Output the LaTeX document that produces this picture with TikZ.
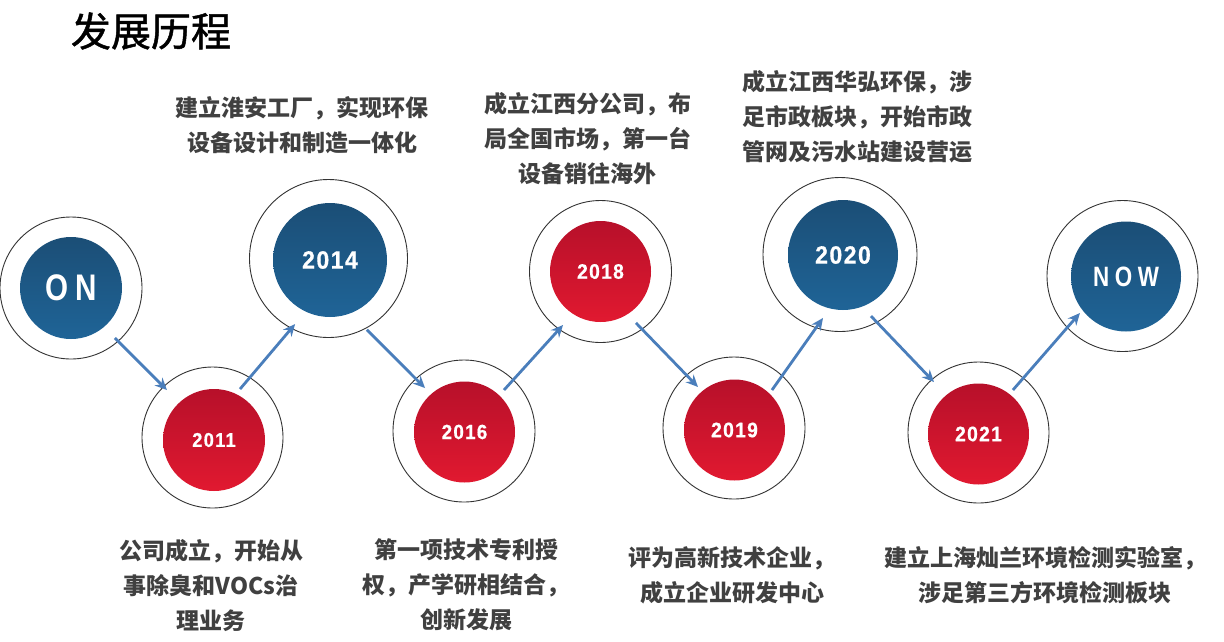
\documentclass[tikz,border=0pt]{standalone}
\usepackage{fontspec}
\usetikzlibrary{calc,arrows.meta}
\newfontfamily\cjk{Noto Sans CJK SC}
\newfontfamily\cjktitle[FakeBold=1.2]{Noto Sans CJK SC}
\newfontfamily\yrfont[LetterSpace=6,FakeStretch=0.92,FakeBold=0.6]{Liberation Sans Bold}
\newfontfamily\wdfont[LetterSpace=20,FakeStretch=0.8]{Liberation Sans Bold}
\definecolor{txtgray}{HTML}{404040}
\definecolor{bluetop}{HTML}{1B4E76}
\definecolor{bluebot}{HTML}{1F6497}
\definecolor{redtop}{HTML}{B7102A}
\definecolor{redbot}{HTML}{E11930}
\definecolor{arrowblue}{HTML}{4A7EBB}
\tikzset{
  ring/.style={circle, draw=black!80, line width=0.9pt, inner sep=0pt, minimum size=#1},
  bluedisc/.style={circle, inner sep=0pt, minimum size=#1, top color=bluetop, bottom color=bluebot, draw=none, text=white},
  reddisc/.style={circle, inner sep=0pt, minimum size=#1, top color=redtop, bottom color=redbot, draw=none, text=white},
  arr/.style={draw=arrowblue, line width=2.8pt, -{Stealth[length=12pt,width=11pt,inset=4pt]}},
  desc/.style={text=txtgray, align=center, font=\cjk\bfseries\fontsize{23}{35}\selectfont},
}
\begin{document}
\begin{tikzpicture}[x=1pt,y=1pt]
\useasboundingbox[fill=white] (0,0) rectangle (1224,-641);
\node[font=\cjktitle\fontsize{40}{44}\selectfont, text=black] (title) at (151,-31) {发展历程};

% rings
\node[ring=142pt] (on) at (71,-288) {};
\node[ring=141pt] (y11) at (212.5,-437.5) {};
\node[ring=158pt] (y14) at (328.5,-258.5) {};
\node[ring=142pt] (y16) at (464,-431) {};
\node[ring=142pt] (y18) at (600.5,-271.5) {};
\node[ring=142pt] (y19) at (734,-428) {};
\node[ring=154pt] (y20) at (840,-254.5) {};
\node[ring=141pt] (y21) at (978.5,-432.5) {};
\node[ring=151pt] (now) at (1122.5,-276) {};

% discs
\node[bluedisc=102pt, font=\wdfont\fontsize{37}{40}\selectfont] (ond) at (71,-288) {ON};
\node[reddisc=102pt, font=\yrfont\fontsize{20}{22}\selectfont] (y11d) at (214,-440) {2011};
\node[bluedisc=114pt, font=\yrfont\fontsize{25}{28}\selectfont] (y14d) at (330,-260) {2014};
\node[reddisc=101pt, font=\yrfont\fontsize{20.5}{22}\selectfont] (y16d) at (464.5,-432) {2016};
\node[reddisc=101pt, font=\yrfont\fontsize{21}{22}\selectfont] (y18d) at (600.5,-271.5) {2018};
\node[reddisc=101pt, font=\yrfont\fontsize{21}{22}\selectfont] (y19d) at (734.5,-430) {2019};
\node[bluedisc=110pt, font=\yrfont\fontsize{25}{28}\selectfont] (y20d) at (843,-255) {2020};
\node[reddisc=101pt, font=\yrfont\fontsize{21}{22}\selectfont] (y21d) at (978.5,-434) {2021};
\node[bluedisc=110pt, font=\wdfont\fontsize{28}{30}\selectfont] (nowd) at (1126,-276.5) {NOW};

% arrows
\draw[arr] ($(on.center)+(-48.7:66.6)$) -- ($(y11.center)+(133.8:65.8)$);
\draw[arr] ($(y11.center)+(60.4:55.7)$) -- ($(y14.center)+(-117:73.6)$);
\draw[arr] ($(y14.center)+(-61.7:81)$) -- ($(y16.center)+(132.2:58)$);
\draw[arr] ($(y16.center)+(45.7:57.3)$) -- ($(y18.center)+(-125:65.3)$);
\draw[arr] ($(y18.center)+(-55.4:62.5)$) -- ($(y19.center)+(131.3:54.6)$);
\draw[arr] ($(y19.center)+(45:53.7)$) -- ($(y20.center)+(-105:65.7)$);
\draw[arr] ($(y20.center)+(-63.3:68.9)$) -- ($(y21.center)+(131.4:67.3)$);
\draw[arr] ($(y21.center)+(51:54.7)$) -- ($(now.center)+(-139:56.4)$);

% descriptions
\node[desc] (d14) at (302,-125) {建立淮安工厂，实现环保\\设备设计和制造一体化};
\node[desc] (d18) at (587.5,-139) {成立江西分公司，布\\局全国市场，第一台\\设备销往海外};
\node[desc] (d20) at (857.5,-117) {成立江西华弘环保，涉\\足市政板块，开始市政\\管网及污水站建设营运};
\node[desc] (d11) at (211,-586) {公司成立，开始从\\事除臭和VOCs治\\理业务};
\node[desc] (d16) at (466,-585) {第一项技术专利授\\权，产学研相结合，\\创新发展};
\node[desc] (d19) at (732,-575) {评为高新技术企业，\\成立企业研发中心};
\node[desc] (d21) at (1045,-575) {建立上海灿兰环境检测实验室，\\涉足第三方环境检测板块};
\end{tikzpicture}
\end{document}
